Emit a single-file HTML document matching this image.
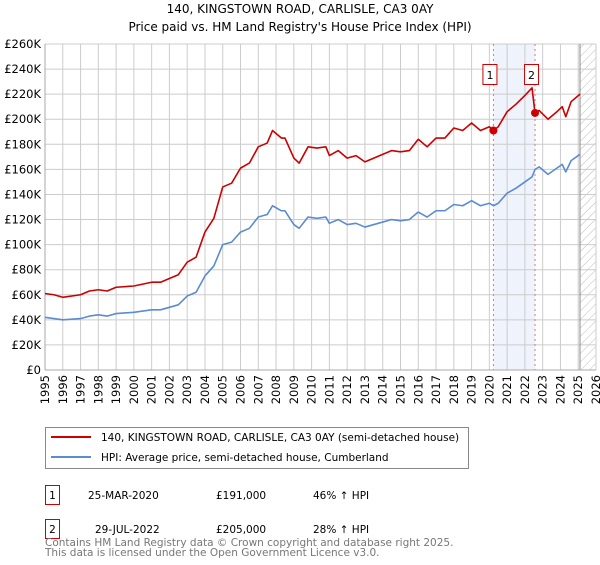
<!DOCTYPE html>
<html><head><meta charset="utf-8"><style>
body{margin:0;background:#fff;font-family:"Liberation Sans","DejaVu Sans",sans-serif;}
</style></head><body>
<svg width="600" height="560" viewBox="0 0 600 560" xmlns="http://www.w3.org/2000/svg" font-family="DejaVu Sans, Liberation Sans, sans-serif">
<defs><pattern id="hatch" width="6" height="6" patternUnits="userSpaceOnUse" patternTransform="rotate(45)"><line x1="0" y1="0" x2="0" y2="6" stroke="#bbb" stroke-width="1"/></pattern></defs>
<text x="300" y="13" text-anchor="middle" font-size="12">140, KINGSTOWN ROAD, CARLISLE, CA3 0AY</text>
<text x="300" y="31" text-anchor="middle" font-size="12">Price paid vs. HM Land Registry's House Price Index (HPI)</text>
<g id="plot"></g>
<g>
<rect x="45.5" y="427.5" width="423" height="41" fill="#fff" stroke="#888"/>
<line x1="51" y1="437" x2="91" y2="437" stroke="#cc0000" stroke-width="2"/>
<text x="101" y="441" font-size="10.5">140, KINGSTOWN ROAD, CARLISLE, CA3 0AY (semi-detached house)</text>
<line x1="51" y1="457" x2="91" y2="457" stroke="#5b8bd0" stroke-width="2"/>
<text x="101" y="461" font-size="10.5">HPI: Average price, semi-detached house, Cumberland</text>
</g>
<g font-size="10.5">
<rect x="45.5" y="485.5" width="14" height="19" fill="#fff" stroke="#cc0000"/><text x="52.5" y="499" text-anchor="middle">1</text>
<text x="88" y="499">25-MAR-2020</text><text x="216" y="499">£191,000</text><text x="313" y="499">46% ↑ HPI</text>
<rect x="45.5" y="519.5" width="14" height="19" fill="#fff" stroke="#cc0000"/><text x="52.5" y="533" text-anchor="middle">2</text>
<text x="95" y="533">29-JUL-2022</text><text x="216" y="533">£205,000</text><text x="313" y="533">28% ↑ HPI</text>
</g>
<text x="45" y="546" font-size="10.5" fill="#777">Contains HM Land Registry data © Crown copyright and database right 2025.</text>
<text x="45" y="556" font-size="10.5" fill="#777">This data is licensed under the Open Government Licence v3.0.</text>
</svg>
<script>
const dates=[1995,1995.5,1996,1997,1997.5,1998,1998.5,1999,2000,2001,2001.5,2002,2002.5,2003,2003.5,2004,2004.5,2005,2005.5,2006,2006.5,2007,2007.5,2007.8,2008.3,2008.5,2009,2009.3,2009.8,2010.3,2010.8,2011,2011.5,2012,2012.5,2013,2013.5,2014,2014.5,2015,2015.5,2016,2016.5,2017,2017.5,2018,2018.5,2019,2019.5,2020,2020.23,2020.5,2021,2021.5,2022,2022.4,2022.57,2022.8,2023.3,2023.8,2024.1,2024.3,2024.6,2025.1];
const hpi=[42,41,40,41,43,44,43,45,46,48,48,50,52,59,62,75,83,100,102,110,113,122,124,131,127,127,116,113,122,121,122,117,120,116,117,114,116,118,120,119,120,126,122,127,127,132,131,135,131,133,131,133,141,145,150,154,160,162,156,161,164,158,167,172];
const price=[61,60,58,60,63,64,63,66,67,70,70,73,76,86,90,110,121,146,149,161,165,178,181,191,185,185,169,165,178,177,178,171,175,169,171,166,169,172,175,174,175,184,178,185,185,193,191,197,191,194,191,194,206,212,219,225,205,207,200,206,210,202,214,220];
const saleDates=[2020.23,2022.57];
const salePrices=[191,205];
const yTicks=[0,20,40,60,80,100,120,140,160,180,200,220,240,260];
const xTicks=[1995,1996,1997,1998,1999,2000,2001,2002,2003,2004,2005,2006,2007,2008,2009,2010,2011,2012,2013,2014,2015,2016,2017,2018,2019,2020,2021,2022,2023,2024,2025,2026];
const L=45,R=596,T=44,B=370;
const X=d=>L+(d-1995)/(2026-1995)*(R-L);
const Y=v=>B-v/260*(B-T);
const g=document.getElementById('plot');const NS='http://www.w3.org/2000/svg';
function mk(t,a,p){const e=document.createElementNS(NS,t);for(const k in a)e.setAttribute(k,a[k]);(p||g).appendChild(e);return e;}
let e=mk('rect',{x:X(saleDates[0]),y:T,width:X(saleDates[1])-X(saleDates[0]),height:B-T,fill:'#eef3fc'});


e=mk('rect',{x:X(2025.1),y:T,width:R-X(2025.1),height:B-T,fill:'url(#hatch)'});


yTicks.forEach(v=>{mk('line',{x1:L,x2:R,y1:Y(v),y2:Y(v),stroke:'#ccc'});
 const t=mk('text',{x:L-4,y:Y(v)+4,'text-anchor':'end','font-size':'11.5'});t.textContent=v?'£'+v+'K':'£0';
 
 });
xTicks.forEach(d=>{mk('line',{x1:X(d),x2:X(d),y1:T,y2:B,stroke:'#ccc'});
 const t=mk('text',{x:0,y:0,'text-anchor':'end','font-size':'11.5',transform:`translate(${X(d)+4},${B+5}) rotate(-90)`});t.textContent=d;
 
 });
mk('line',{x1:X(2025.1),x2:X(2025.1),y1:T,y2:B,stroke:'#888'});
mk('line',{x1:L,x2:L,y1:T,y2:B,stroke:'#aaa'});
mk('line',{x1:L,x2:R,y1:B,y2:B,stroke:'#aaa'});
saleDates.forEach(d=>{e=mk('line',{x1:X(d),x2:X(d),y1:T,y2:B,stroke:'#f07070','stroke-dasharray':'2,3'});
 
 });
function line(vals,col,name){const p=mk('polyline',{points:dates.map((d,i)=>X(d)+','+Y(vals[i])).join(' '),fill:'none',stroke:col,'stroke-width':1.6,'stroke-linejoin':'round'});
 
 }
line(hpi,'#5b8bd0','hpi-line');line(price,'#cc0000','price-line');
saleDates.forEach((d,i)=>{e=mk('circle',{cx:X(d),cy:Y(salePrices[i]),r:4,fill:'#cc0000'});
 
 
 const r=mk('rect',{x:X(d)-10.5,y:64.5,width:14,height:20,fill:'#fff',stroke:'#cc0000'});
 
 
 const t=mk('text',{x:X(d)-3.5,y:79,'text-anchor':'middle','font-size':'11'});t.textContent=i+1;
 
 });
</script>
</body></html>
